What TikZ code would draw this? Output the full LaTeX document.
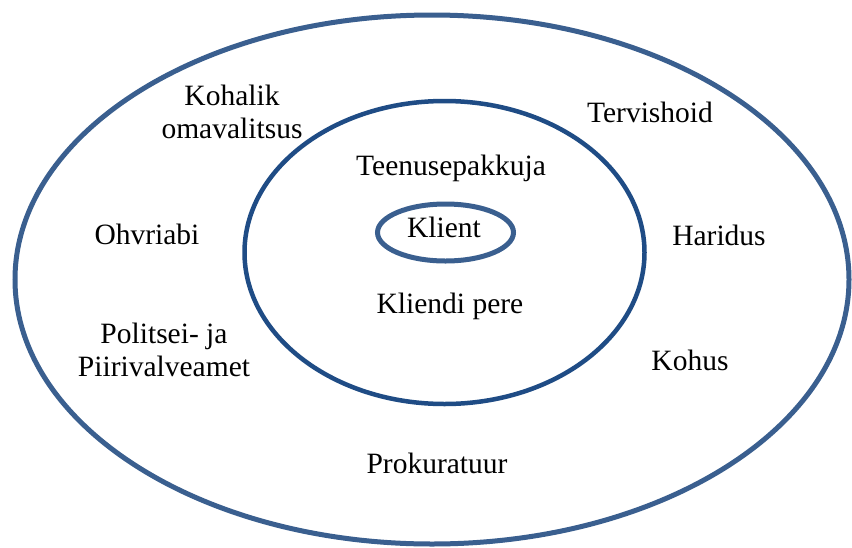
\documentclass[tikz,border=0pt]{standalone}
\usepackage{fontspec}
\setmainfont{Liberation Serif}
\definecolor{outerblue}{HTML}{3A5F8F}
\definecolor{midblue}{HTML}{1F4C85}
\begin{document}
\begin{tikzpicture}[x=1pt,y=-1pt,
  ring/.style={line width=#1},
  lbl/.style={font=\fontsize{29.5}{33}\selectfont, align=center, inner sep=0pt, text=black}]
\useasboundingbox (0,0) rectangle (852,547);
\fill[white] (0,0) rectangle (852,547);
\draw[ring=5pt, draw=outerblue] (432,279.5) ellipse [x radius=417, y radius=264.5];
\draw[ring=4.5pt, draw=midblue] (444.5,252.5) ellipse [x radius=200, y radius=151.5];
\draw[ring=5pt, draw=outerblue] (445.5,232.5) ellipse [x radius=68, y radius=28.5];
\node[lbl] (klient) at (444,227.5) {Klient};
\node[lbl] (teenus) at (451,168) {Teenusepakkuja};
\node[lbl] (pere) at (450,306) {Kliendi pere};
\node[lbl] (kov) at (232,112) {Kohalik\\omavalitsus};
\node[lbl] (tervis) at (650,112) {Tervishoid};
\node[lbl] (ohvri) at (147,234) {Ohvriabi};
\node[lbl] (haridus) at (719,235) {Haridus};
\node[lbl] (politsei) at (164,350) {Politsei- ja\\Piirivalveamet};
\node[lbl] (kohus) at (690,360) {Kohus};
\node[lbl] (prok) at (437,463) {Prokuratuur};
\end{tikzpicture}
\end{document}
